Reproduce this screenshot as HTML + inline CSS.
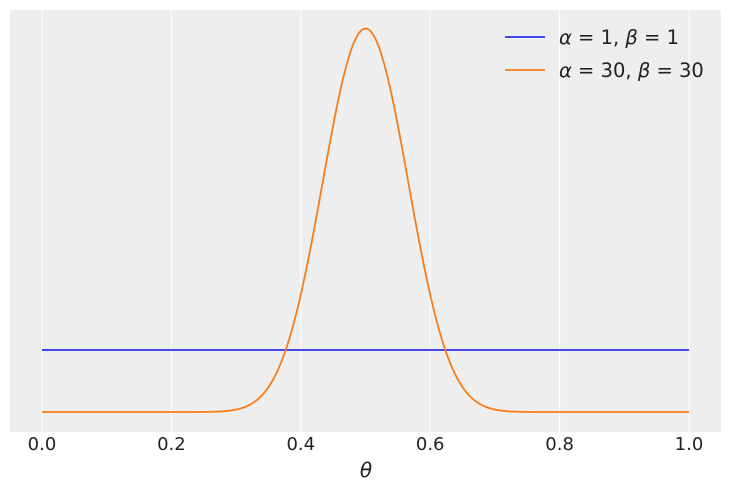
<!DOCTYPE html>
<html><head><meta charset="utf-8"><style>
body{margin:0;background:#fff;}
svg{display:block;font-family:"DejaVu Sans","Liberation Sans",sans-serif;}
</style></head><body>
<svg id="s" width="731" height="491" viewBox="0 0 731 491">
<rect x="10" y="10" width="711" height="422" fill="#eeeeee"/>
<g stroke="#fff" stroke-width="1">
<line x1="42" y1="10" x2="42" y2="432"/>
<line x1="171.4" y1="10" x2="171.4" y2="432"/>
<line x1="300.8" y1="10" x2="300.8" y2="432"/>
<line x1="430.2" y1="10" x2="430.2" y2="432"/>
<line x1="559.6" y1="10" x2="559.6" y2="432"/>
<line x1="689" y1="10" x2="689" y2="432"/>
</g>
<g font-size="18" fill="#222" text-anchor="middle">
<text x="42" y="450">0.0</text>
<text x="171.4" y="450">0.2</text>
<text x="300.8" y="450">0.4</text>
<text x="430.2" y="450">0.6</text>
<text x="559.6" y="450">0.8</text>
<text x="689" y="450">1.0</text>
<text x="366" y="477" font-style="italic" font-size="20">θ</text>
</g>
<line x1="42" y1="350" x2="689" y2="350" stroke="#2a2eec" stroke-width="1.8"/>
<path id="p" fill="none" stroke="#fa7c17" stroke-width="1.8"/>
<line x1="505" y1="37" x2="545" y2="37" stroke="#2a2eec" stroke-width="1.8"/>
<line x1="505" y1="70" x2="545" y2="70" stroke="#fa7c17" stroke-width="1.8"/>
<g font-size="19.5" fill="#222">
<text x="559" y="44"><tspan font-style="italic">α</tspan> = 1, <tspan font-style="italic">β</tspan> = 1</text>
<text x="559" y="77"><tspan font-style="italic">α</tspan> = 30, <tspan font-style="italic">β</tspan> = 30</text>
</g>
</svg>
<script>
var N=2000,sum=0,vals=[];
for(var i=0;i<=N;i++){var x=i/N;var v=Math.pow(x*(1-x)*4,29);vals.push(v);sum+=v;}
var integ=sum/N;
var d="";
for(var i=0;i<=N;i+=4){var x=i/N;var y=vals[i]/integ;
d+=(i?"L":"M")+(42+647*x).toFixed(2)+","+(412-62.3*y).toFixed(2);}
document.getElementById("p").setAttribute("d",d);
</script>
</body></html>
